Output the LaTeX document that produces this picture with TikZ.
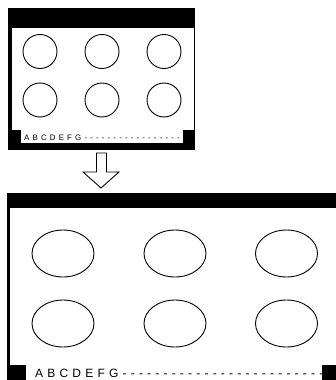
\documentclass[tikz,border=0pt]{standalone}
\usepackage{fontspec}
\usetikzlibrary{shapes.geometric}
\newfontfamily\labsmall[LetterSpace=40]{Liberation Sans}
\newfontfamily\labbig[LetterSpace=35]{Liberation Sans}
\begin{document}
\begin{tikzpicture}[x=1pt,y=-1pt,
  circ/.style={draw=black,line width=0.9pt,circle,minimum size=34pt,inner sep=0pt},
  ell/.style={draw=black,line width=0.9pt,ellipse,minimum width=62pt,minimum height=47pt,inner sep=0pt},
  blk/.style={fill=black},
  wht/.style={fill=white},
  lab/.style={inner sep=0pt,anchor=base west}]
\useasboundingbox (0,0) rectangle (336,380);
\fill[white] (0,0) rectangle (336,380);
% top frame
\fill[blk] (8,8) rectangle (195,150);
\fill[wht] (12,28) rectangle (194,130);
\fill[wht] (21,130) rectangle (183,143);
\foreach \i/\x in {1/40,2/102,3/164}{
  \node[circ] (t1\i) at (\x,51.5) {};
  \node[circ] (t2\i) at (\x,100) {};
}
\node[lab] (ttext) at (24,140.8) {\labsmall\fontsize{7.9}{9}\selectfont ABCDEFG------------------};
% arrow
\draw[line width=0.9pt,fill=white,line join=miter]
  (96.5,153) -- (106.5,153) -- (106.5,172) -- (119,172) -- (101,188) -- (83,172) -- (96.5,172) -- cycle;
% bottom frame
\fill[blk] (7,193) rectangle (337,381);
\fill[wht] (10,208) rectangle (337,365);
\fill[wht] (26,365) rectangle (322,381);
\foreach \i/\x in {1/63,2/175,3/286.5}{
  \node[ell] (b1\i) at (\x,253.5) {};
  \node[ell] (b2\i) at (\x,323.5) {};
}
\node[lab] (btext) at (35,377.5) {\labbig\fontsize{12}{13}\selectfont ABCDEFG-----------------------------};
\end{tikzpicture}
\end{document}
